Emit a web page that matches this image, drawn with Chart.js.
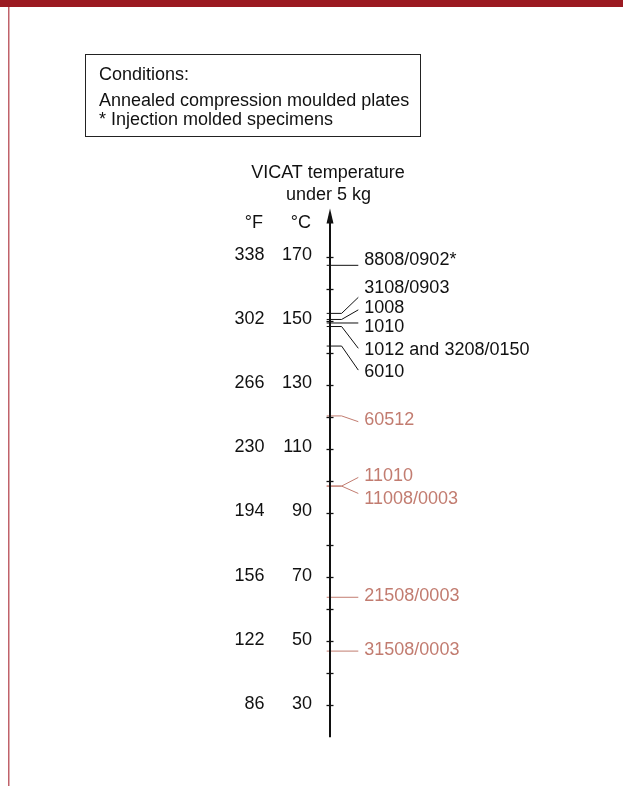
<!DOCTYPE html>
<html>
<head>
<meta charset="utf-8">
<script src="https://cdn.jsdelivr.net/npm/chart.js@4/dist/chart.umd.min.js"></script>
<style>
  html, body { margin: 0; padding: 0; background: #fff; }
  #wrap { width: 623px; height: 786px; }
</style>
</head>
<body>
<div id="wrap"><canvas id="vicatChart" width="623" height="786"></canvas></div>
<script>
// VICAT softening temperature (°C, 5 kg) per grade
const blackGrades = ['8808/0902*', '3108/0903', '1008', '1010', '1012 and 3208/0150', '6010'];
const blackVicat = [167.3, 152.3, 150.4, 149.3, 148.2, 142.1];
const redGrades = ['60512', '11010', '11008/0003', '21508/0003', '31508/0003'];
const redVicat = [120.3, 98.4, 98.4, 63.7, 46.9];

// axis labels
const celsiusTicks = [170, 150, 130, 110, 90, 70, 50, 30];
const fahrenheitTicks = ['338', '302', '266', '230', '194', '156', '122', '86'];

// leader layout (where the slanted leaders end, and small text nudges in px)
const tipShift = [0, 5.0, 3.0, 0, -6.8, -7.5, -1.8, 2.7, -2.3, 0, 0];
const labelNudge = [-5.3, -9, -1.5, 4, 2, 2, -1.5, -1, 6, -1.5, -1.5];

const BLACK = '#111111';
const RED = '#c27c70';
const FONT = '18px "Liberation Sans", Arial, Helvetica, sans-serif';

function leader(v, shift) {
    if (shift === 0) return [{ x: -0.117, y: v }, { x: 1, y: v }];
    return [{ x: -0.117, y: v }, { x: 0.41, y: v }, { x: 1, y: v + shift }];
}

const grades = blackGrades.concat(redGrades);
const datasets = grades.map((g, i) => {
    const v = i < blackGrades.length ? blackVicat[i] : redVicat[i - blackGrades.length];
    return {
        label: g,
        data: leader(v, tipShift[i]),
        borderColor: i < blackGrades.length ? BLACK : RED,
        borderWidth: 1,
        pointRadius: 0,
        tension: 0,
        clip: false
    };
});

const decor = {
    id: 'decor',
    beforeDraw(chart) {
        const ctx = chart.ctx;
        ctx.save();
        ctx.fillStyle = '#fff';
        ctx.fillRect(0, 0, chart.width, chart.height);
        // page frame
        ctx.fillStyle = '#9b1a21';
        ctx.fillRect(0, 0, chart.width, 7);
        ctx.strokeStyle = '#c0626a';
        ctx.lineWidth = 1.5;
        ctx.beginPath();
        ctx.moveTo(8.75, 7);
        ctx.lineTo(8.75, chart.height);
        ctx.stroke();
        // conditions box
        ctx.strokeStyle = '#222';
        ctx.lineWidth = 1;
        ctx.strokeRect(85.5, 54.5, 335, 82);
        ctx.fillStyle = BLACK;
        ctx.font = FONT;
        ctx.textBaseline = 'middle';
        ctx.textAlign = 'left';
        ctx.fillText('Conditions:', 99, 75);
        ctx.fillText('Annealed compression moulded plates', 99, 101);
        ctx.fillText('* Injection molded specimens', 99, 120);
        // axis title
        const ax = chart.scales.x.getPixelForValue(0);
        ctx.textAlign = 'center';
        ctx.fillText('VICAT temperature', ax - 2, 173);
        ctx.fillText('under 5 kg', ax - 1.5, 195);
        ctx.textAlign = 'right';
        ctx.fillText('°F', ax - 67, 223.5);
        ctx.fillText('°C', ax - 19, 223.5);
        ctx.restore();
    },
    afterDraw(chart) {
        const ctx = chart.ctx;
        const xs = chart.scales.x, ys = chart.scales.y;
        const ax = xs.getPixelForValue(0);
        ctx.save();
        // main axis with arrow
        const top = ys.getPixelForValue(ys.max);
        ctx.strokeStyle = BLACK;
        ctx.lineWidth = 2;
        ctx.beginPath();
        ctx.moveTo(ax, ys.getPixelForValue(ys.min));
        ctx.lineTo(ax, top + 10);
        ctx.stroke();
        ctx.fillStyle = BLACK;
        ctx.beginPath();
        ctx.moveTo(ax, top);
        ctx.lineTo(ax - 3.5, top + 15);
        ctx.lineTo(ax + 3.5, top + 15);
        ctx.closePath();
        ctx.fill();
        // ticks every 10 °C
        ctx.lineWidth = 1.3;
        ys.ticks.forEach(t => {
            if (t.value < 30 || t.value > 170) return;
            const y = Math.round(ys.getPixelForValue(t.value)) + 0.5;
            ctx.beginPath();
            ctx.moveTo(ax - 3.5, y);
            ctx.lineTo(ax + 3.5, y);
            ctx.stroke();
        });
        // °F / °C labels
        ctx.font = FONT;
        ctx.textBaseline = 'middle';
        ctx.textAlign = 'right';
        celsiusTicks.forEach((c, i) => {
            const y = ys.getPixelForValue(c) - 1.5;
            ctx.fillText(String(c), ax - 18, y);
            ctx.fillText(fahrenheitTicks[i], ax - 65.5, y);
        });
        // grade labels at leader ends
        ctx.textAlign = 'left';
        chart.data.datasets.forEach((ds, i) => {
            const pts = chart.getDatasetMeta(i).data;
            const end = pts[pts.length - 1];
            ctx.fillStyle = ds.borderColor;
            ctx.fillText(ds.label, end.x + 6, end.y + labelNudge[i]);
        });
        ctx.restore();
    }
};

new Chart(document.getElementById('vicatChart').getContext('2d'), {
    type: 'line',
    data: { datasets: datasets },
    options: {
        responsive: false,
        animation: false,
        layout: {
            padding: { left: 330, right: 264.7, top: 208.6, bottom: 48.7 }
        },
        scales: {
            x: { type: 'linear', min: 0, max: 1, display: false },
            y: { type: 'linear', min: 20, max: 185, display: false, ticks: { stepSize: 10 } }
        },
        plugins: {
            legend: { display: false },
            tooltip: { enabled: false }
        }
    },
    plugins: [decor]
});
</script>
</body>
</html>
